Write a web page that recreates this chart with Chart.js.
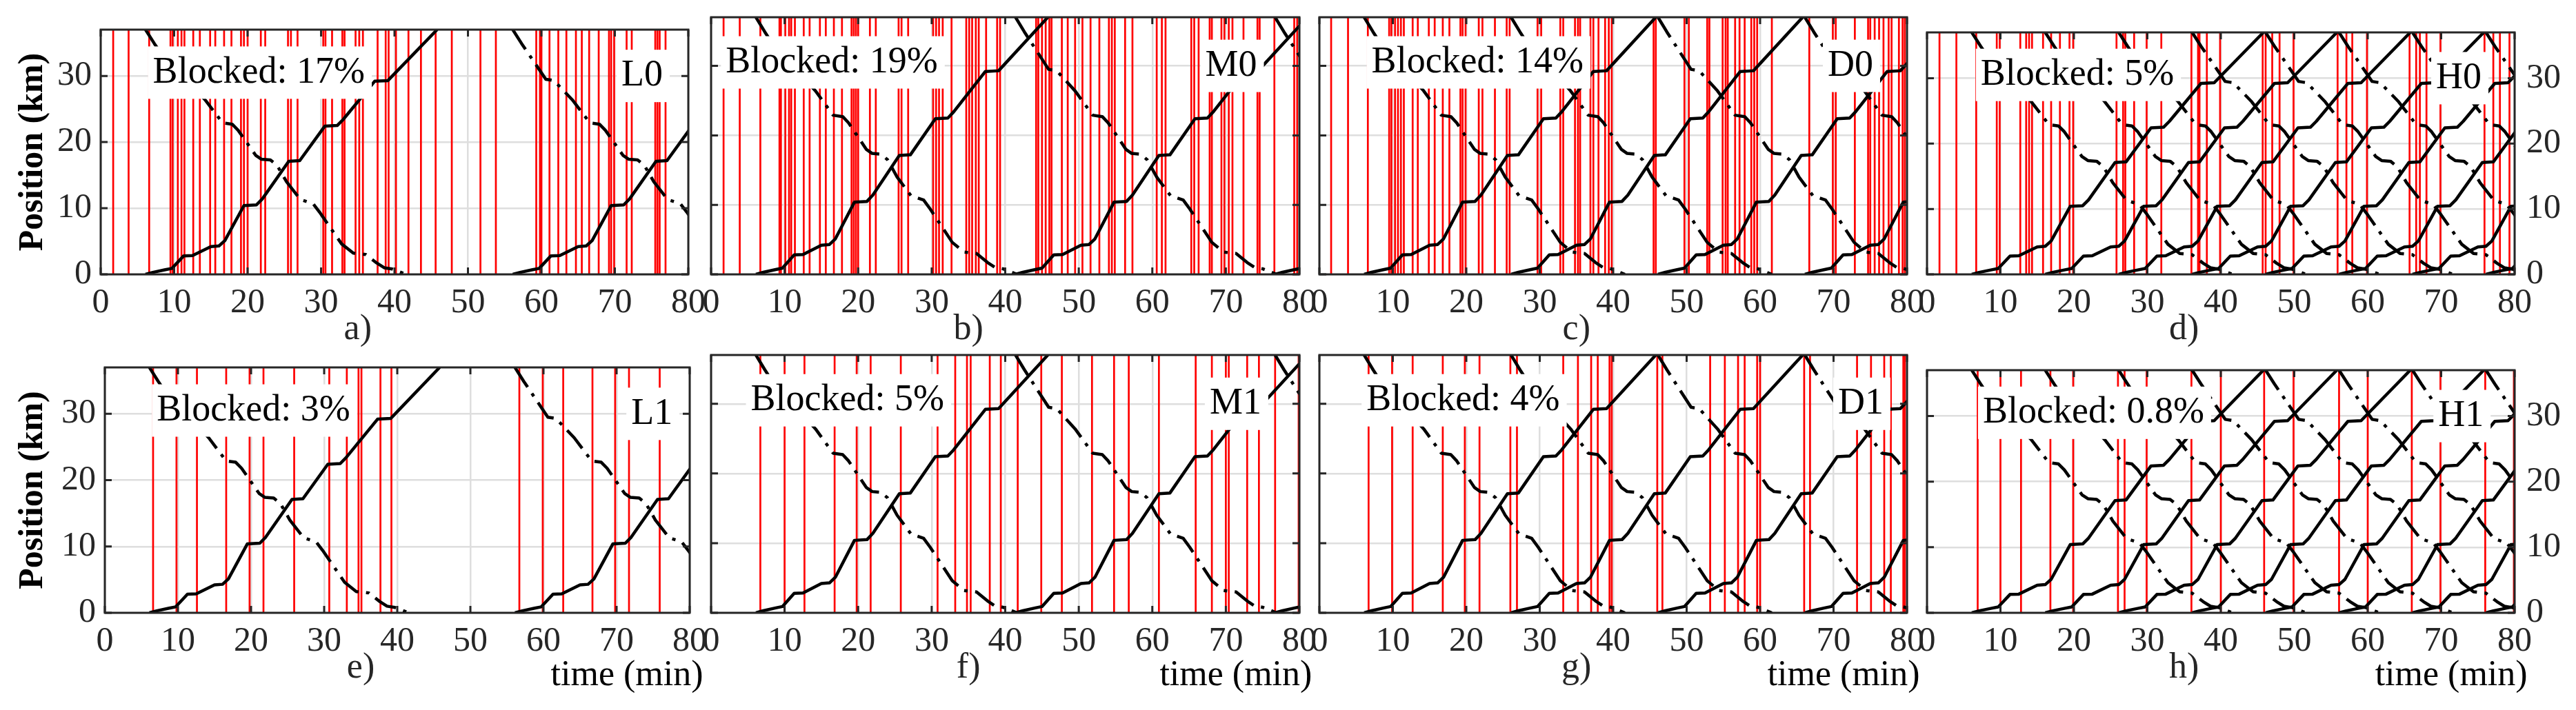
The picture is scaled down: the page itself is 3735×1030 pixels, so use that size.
<!DOCTYPE html>
<html lang="en">
<head>
  <meta charset="UTF-8" />
  <title>Blocked crossings | L/M/D/H timetables</title>
  <script src="https://cdn.jsdelivr.net/npm/chart.js"></script>
  <style>
    body {
      margin: 0;
      width: 3735px;
      height: 1030px;
      background: #fff;
      position: relative;
      overflow: hidden;
      font-family: "Liberation Serif", serif;
    }
    canvas {
      position: absolute;
    }
  </style>
</head>
<body>

<script>
  // ---- data ----
  const TIME_TICKS = [0, 10, 20, 30, 40, 50, 60, 70, 80];
  const POS_TICKS = [0, 10, 20, 30];

  // one trip, minutes after departure -> km
  const UP_DT   = [0, 1.0, 2.7, 3.6, 5.2, 6.4, 8.9, 10.0, 10.8, 13.4, 15.1, 15.9, 19.5, 21.0, 24.4, 26.1, 26.9, 31.2, 33.0, 39.7];
  const UP_POS  = [0, 0.3, 0.7, 0.9, 2.8, 2.85, 4.2, 4.3, 5.1, 10.4, 10.5, 11.4, 17.1, 17.2, 22.4, 22.5, 23.4, 29.2, 29.3, 37];
  const DOWN_DT  = [0, 1.2, 4.5, 5.6, 8.1, 10.5, 11.8, 12.6, 15.0, 15.8, 17.0, 17.9, 19.2, 21.1, 22.8, 23.7, 26.7, 28.3, 30.0, 31.5, 32.5, 33.6, 35.5];
  const DOWN_POS = [37, 34.9, 29.5, 29.3, 26.4, 22.9, 22.7, 21.8, 18.0, 17.4, 17.3, 16.5, 14.0, 11.3, 10.7, 9.4, 4.6, 3.2, 3.0, 1.7, 1.0, 0.8, 0];

  // departures (min) for each timetable
  const DEP_L = [6.1, 56.1];
  const DEP_M = [6.1, 41.4, 76.7];
  const DEP_D = [6.1, 26.1, 46.1, 66.1];
  const DEP_H = [6.1, 16.1, 26.1, 36.1, 46.1, 56.1, 66.1, 76.1];

  // blocked instants (min)
  const RED_L0 = [1.7, 3.8, 6.6, 9.5, 9.8, 10.5, 11.0, 11.4, 12.6, 13.5, 14.9, 15.6, 16.8, 17.8, 19.1, 19.5, 20.0, 21.8, 22.4, 25.5, 25.9, 26.8, 30.3, 30.6, 31.5, 32.9, 33.2, 34.7, 35.2, 35.7, 37.7, 38.8, 39.2, 40.2, 41.9, 43.6, 45.6, 47.8, 51.7, 53.8, 59.3, 59.8, 60.0, 61.1, 62.3, 63.4, 64.7, 65.5, 66.5, 67.8, 69.2, 69.5, 69.9, 71.6, 72.3, 75.5, 75.8, 76.1, 76.9];
  const RED_M0 = [1.7, 3.9, 6.7, 9.3, 9.5, 10.1, 10.6, 10.9, 11.4, 12.6, 13.4, 14.8, 15.6, 16.7, 17.8, 19.1, 19.4, 19.7, 20.0, 21.6, 22.4, 25.5, 25.9, 26.8, 30.2, 30.6, 31.0, 31.5, 32.7, 34.7, 35.1, 35.5, 36.0, 36.4, 37.4, 38.9, 39.3, 44.2, 44.5, 45.0, 45.5, 46.0, 46.3, 47.7, 48.5, 49.5, 50.5, 51.6, 52.8, 54.1, 54.5, 54.9, 56.3, 57.3, 60.6, 61.3, 61.8, 65.3, 65.7, 66.3, 67.8, 68.1, 69.4, 69.8, 70.4, 70.9, 72.4, 74.3, 74.6, 76.6, 79.3, 79.7];
  const RED_D0 = [1.6, 3.9, 6.6, 9.5, 9.8, 10.3, 10.7, 11.1, 11.5, 12.7, 13.4, 14.9, 15.7, 16.8, 17.7, 19.2, 19.5, 19.9, 21.7, 22.2, 23.9, 25.5, 25.9, 29.7, 30.2, 32.8, 33.2, 34.8, 35.2, 35.5, 36.9, 37.3, 38.0, 38.9, 39.4, 39.8, 45.5, 45.8, 49.7, 50.3, 52.8, 53.1, 54.9, 55.3, 55.6, 56.6, 57.2, 57.9, 58.8, 59.2, 59.6, 61.6, 66.7, 69.9, 70.3, 72.9, 74.7, 75.0, 75.6, 76.2, 76.8, 77.5, 77.9, 78.9, 79.4, 79.7];
  const RED_H0 = [1.7, 4.0, 6.7, 9.5, 9.9, 12.7, 13.5, 13.9, 14.3, 15.8, 16.9, 18.1, 19.4, 19.9, 25.8, 26.7, 27.0, 28.2, 29.9, 31.9, 36.0, 36.9, 37.1, 38.1, 39.9, 45.7, 46.1, 47.0, 48.0, 49.9, 55.9, 57.1, 57.9, 59.9, 65.7, 66.6, 67.1, 68.0, 69.9, 75.9, 77.1, 78.0, 79.3];
  const RED_L1 = [6.6, 9.8, 12.6, 16.6, 19.8, 21.7, 25.9, 30.7, 33.1, 34.7, 35.1, 37.7, 39.2, 56.7, 59.9, 62.7, 66.7, 69.8, 71.7, 75.9];
  const RED_M1 = [6.7, 10.0, 12.7, 16.8, 19.8, 21.7, 25.8, 30.8, 33.2, 34.8, 35.3, 37.9, 39.4, 41.7, 44.9, 47.7, 51.8, 54.8, 56.8, 60.9, 65.9, 68.1, 70.0, 70.4, 72.9, 74.5, 76.7, 79.9];
  const RED_D1 = [6.7, 9.9, 12.7, 16.8, 19.8, 21.8, 26.0, 26.9, 33.2, 35.2, 37.0, 37.9, 39.5, 39.8, 46.0, 46.7, 53.2, 55.2, 57.0, 57.9, 59.6, 60.0, 66.0, 66.8, 73.2, 75.1, 76.9, 77.8, 79.5, 79.7];
  const RED_H1 = [6.9, 10.0, 12.8, 16.8, 19.9, 26.0, 26.9, 29.9, 36.0, 40.0, 45.9, 49.9, 56.1, 60.0, 66.0, 69.9, 76.0, 79.9];

  const RUN_NAMES = ['L0', 'M0', 'D0', 'H0', 'L1', 'M1', 'D1', 'H1'];
  const BLOCKED = ['17%', '19%', '14%', '5%', '3%', '5%', '4%', '0.8%'];
  const TAGS = ['a)', 'b)', 'c)', 'd)', 'e)', 'f)', 'g)', 'h)'];
  const DEPS = [DEP_L, DEP_M, DEP_D, DEP_H, DEP_L, DEP_M, DEP_D, DEP_H];
  const REDS = [RED_L0, RED_M0, RED_D0, RED_H0, RED_L1, RED_M1, RED_D1, RED_H1];

  // ---- layout (plot boxes in page pixels) ----
  const BOX_LEFT = [146, 1031, 1913, 2794, 152, 1031, 1913, 2794];
  const BOX_W    = [852, 853, 852, 852, 848, 853, 852, 852];
  const ROW_TOP = [25, 515];
  const ROW_H = [373, 374];
  const PAD_L = 152, PAD_R = 89, PAD_T = 25, PAD_B = 130;
  const Y_MAX = 37;
  // where the two text boxes start (min)
  const TEXT_AT = [7.1, 2.0, 7.1, 7.3, 7.1, 5.4, 6.4, 7.6];
  const NAME_AT = [70.9, 67.2, 69.2, 69.3, 72.0, 67.8, 70.6, 69.6];

  const SERIF = '"Liberation Serif", "Times New Roman", serif';
  const INK = '#262626';

  function trip(dts, pos, dep) {
    return dts.map((d, i) => ({ x: dep + d, y: pos[i] }));
  }

  function redPoints(times) {
    const pts = [];
    times.forEach(t => pts.push({ x: t, y: 0 }, { x: t, y: Y_MAX }, { x: t, y: null }));
    return pts;
  }

  function textBox(ctx, txt, x0, yc) {
    const w = ctx.measureText(txt).width;
    ctx.fillStyle = '#fff';
    ctx.fillRect(x0 - 7, yc - 38, w + 17, 76);
    ctx.fillStyle = '#000';
    ctx.textAlign = 'left';
    ctx.textBaseline = 'middle';
    ctx.fillText(txt, x0, yc);
  }

  function decorPlugin(i, row) {
    return {
      id: 'decor' + i,
      afterDatasetsDraw(chart) {
        const { ctx, scales: { x, y } } = chart;
        ctx.save();
        ctx.font = '54px ' + SERIF;
        textBox(ctx, 'Blocked: ' + BLOCKED[i], x.getPixelForValue(TEXT_AT[i]), y.getPixelForValue(30.5));
        textBox(ctx, RUN_NAMES[i], x.getPixelForValue(NAME_AT[i]), y.getPixelForValue(30.0));
        ctx.restore();
      },
      afterDraw(chart) {
        const { ctx, chartArea: a, scales: { x, y } } = chart;
        ctx.save();
        // box round the axes, ticks pointing in
        ctx.strokeStyle = INK;
        ctx.lineWidth = 3;
        ctx.strokeRect(a.left, a.top, a.width, a.height);
        ctx.beginPath();
        TIME_TICKS.forEach(v => {
          const px = x.getPixelForValue(v);
          ctx.moveTo(px, a.bottom); ctx.lineTo(px, a.bottom - 10);
          ctx.moveTo(px, a.top); ctx.lineTo(px, a.top + 10);
        });
        POS_TICKS.forEach(v => {
          const py = y.getPixelForValue(v);
          ctx.moveTo(a.left, py); ctx.lineTo(a.left + 10, py);
          ctx.moveTo(a.right, py); ctx.lineTo(a.right - 10, py);
        });
        ctx.stroke();

        ctx.font = '52px ' + SERIF;
        ctx.fillStyle = INK;
        ctx.textBaseline = 'middle';
        ctx.textAlign = 'center';
        ctx.fillText(TAGS[i], x.getPixelForValue(35), a.bottom + 80);
        if (row === 1) {
          ctx.textAlign = 'left';
          ctx.fillStyle = '#000';
          ctx.fillText('time (min)', x.getPixelForValue(61), a.bottom + 91);
        }
        ctx.restore();
      }
    };
  }

  const charts = [];

  RUN_NAMES.forEach((name, i) => {
    const col = i % 4;
    const row = Math.floor(i / 4);
    const leftW = col === 0 ? BOX_LEFT[i] : PAD_L;

    const cv = document.createElement('canvas');
    cv.width = leftW + BOX_W[i] + PAD_R;
    cv.height = PAD_T + ROW_H[row] + PAD_B;
    cv.style.left = (BOX_LEFT[i] - leftW) + 'px';
    cv.style.top = (ROW_TOP[row] - PAD_T) + 'px';
    document.body.appendChild(cv);

    const datasets = [{
      label: 'blocked',
      data: redPoints(REDS[i]),
      borderColor: '#ff0000',
      borderWidth: 2.7,
      pointRadius: 0,
      spanGaps: false,
      order: 2
    }];
    DEPS[i].forEach(dep => {
      datasets.push({
        label: 'up',
        data: trip(UP_DT, UP_POS, dep),
        borderColor: '#000',
        borderWidth: 4.5,
        borderJoinStyle: 'round',
        pointRadius: 0,
        order: 1
      });
      datasets.push({
        label: 'down',
        data: trip(DOWN_DT, DOWN_POS, dep),
        borderColor: '#000',
        borderWidth: 4.5,
        borderDash: [34, 11, 5, 11],
        borderJoinStyle: 'round',
        pointRadius: 0,
        order: 1
      });
    });

    const gridStyle = { color: '#dedede', lineWidth: 2.5, drawTicks: false };
    const tickFont = { family: SERIF, size: 50 };

    charts.push(new Chart(cv.getContext('2d'), {
      type: 'line',
      data: { datasets },
      options: {
        responsive: false,
        animation: false,
        events: [],
        layout: {
          padding: {
            left: col === 0 ? 0 : PAD_L,
            right: col === 3 ? 0 : PAD_R,
            top: PAD_T,
            bottom: 0
          }
        },
        plugins: {
          legend: { display: false },
          tooltip: { enabled: false }
        },
        scales: {
          x: {
            type: 'linear',
            min: 0,
            max: 80,
            afterBuildTicks: s => { s.ticks = TIME_TICKS.map(v => ({ value: v })); },
            afterFit: s => { s.height = PAD_B; },
            grid: gridStyle,
            border: { display: false },
            ticks: { font: tickFont, color: INK, padding: 12, maxRotation: 0, autoSkip: false }
          },
          y: {
            type: 'linear',
            position: col === 3 ? 'right' : 'left',
            min: 0,
            max: Y_MAX,
            afterBuildTicks: s => { s.ticks = POS_TICKS.map(v => ({ value: v })); },
            afterFit: s => { s.width = col === 0 ? leftW : (col === 3 ? PAD_R : 0); },
            grid: gridStyle,
            border: { display: false },
            ticks: {
              display: col === 0 || col === 3,
              font: tickFont,
              color: INK,
              padding: col === 0 ? 13 : 17
            },
            title: {
              display: col === 0,
              text: 'Position (km)',
              color: '#000',
              font: { family: SERIF, size: 50, weight: 'bold' },
              padding: { top: 18, bottom: 0 }
            }
          }
        }
      },
      plugins: [decorPlugin(i, row)]
    }));
  });

  // redraw once the serif face is surely in
  Promise.all([
    document.fonts.load('50px "Liberation Serif"'),
    document.fonts.load('bold 50px "Liberation Serif"')
  ]).then(() => charts.forEach(c => c.update('none')));
</script>
</body>
</html>
